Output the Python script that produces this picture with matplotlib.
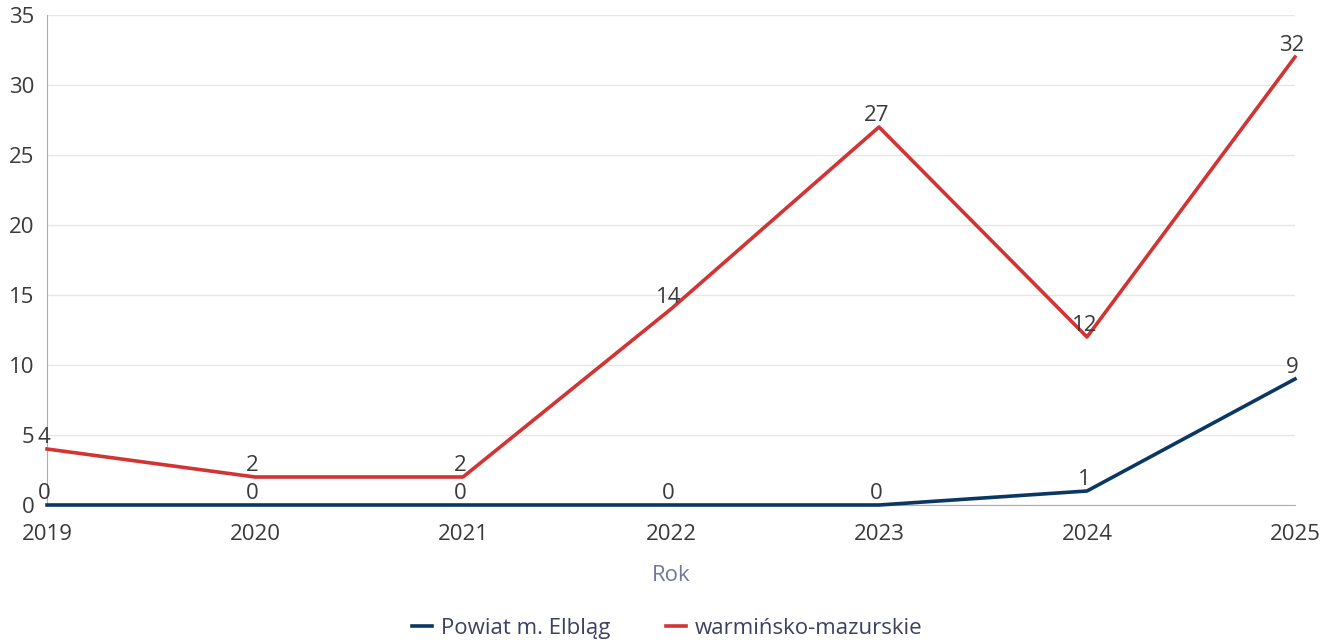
import matplotlib.pyplot as plt

plt.rcParams['font.family'] = ['Open Sans', 'DejaVu Sans']

years = [2019, 2020, 2021, 2022, 2023, 2024, 2025]
elblag = [0, 0, 0, 0, 0, 1, 9]
warminsko = [4, 2, 2, 14, 27, 12, 32]
y_ticks = [0, 5, 10, 15, 20, 25, 30, 35]

blue = '#0b3763'
red = '#d23434'
text_col = '#3a3a3a'
fs = 16

fig = plt.figure(figsize=(13.21, 6.42), dpi=100)
ax = fig.add_axes([0.0356, 0.2134, 0.9447, 0.7632])

ax.plot(years, elblag, color=blue, lw=2.6, label='Powiat m. Elbląg', zorder=3, clip_on=False)
ax.plot(years, warminsko, color=red, lw=2.6, label='warmińsko-mazurskie', zorder=3, clip_on=False)

# value labels above each point
for series in (elblag, warminsko):
    for x, v in zip(years, series):
        ax.annotate(str(v), (x, v), xytext=(-2, 8), textcoords='offset points',
                    ha='center', va='center', fontsize=fs, color=text_col, zorder=4)

ax.set_xlim(years[0], years[-1])
ax.set_ylim(0, 35)
ax.set_xticks(years)
ax.set_yticks(y_ticks)
ax.tick_params(axis='both', length=0, labelsize=fs, labelcolor=text_col)
ax.tick_params(axis='x', pad=14)
ax.tick_params(axis='y', pad=9)
ax.grid(axis='y', color='#e6e6ee', lw=1)
ax.set_axisbelow(True)

for s in ('top', 'right'):
    ax.spines[s].set_visible(False)
ax.spines['left'].set_color('#a8abc6')
ax.spines['bottom'].set_color('#a8abc6')

ax.set_xlabel('Rok', fontsize=fs, color='#7377a0', labelpad=14)

fig.legend(loc='lower center', bbox_to_anchor=(0.505, -0.026), ncol=2, frameon=False,
           fontsize=fs, handlelength=0.9, handletextpad=0.4, columnspacing=2.5,
           labelcolor='#3d4060')

fig.savefig('out.png', dpi=100)
